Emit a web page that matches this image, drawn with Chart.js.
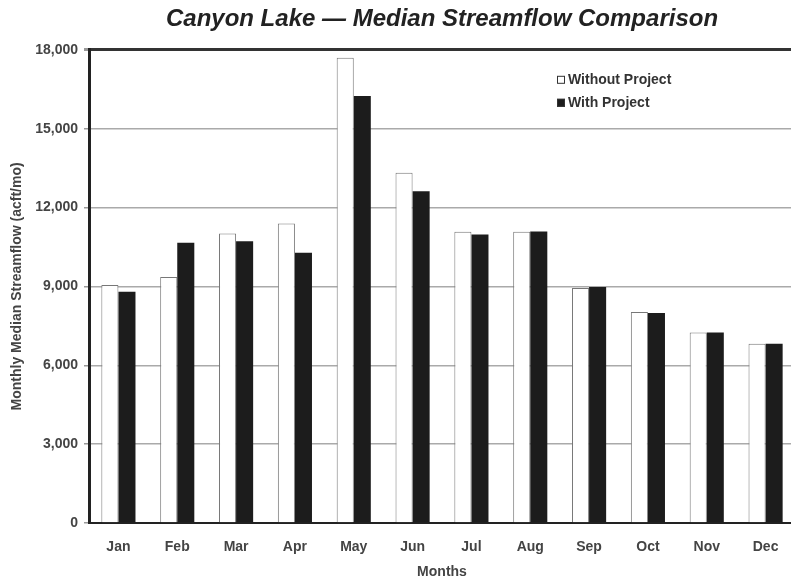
<!DOCTYPE html>
<html>
<head>
<meta charset="utf-8">
<script src="https://cdn.jsdelivr.net/npm/chart.js@4.4.0/dist/chart.umd.min.js"></script>
<style>
  html, body { margin: 0; padding: 0; background: #fff; overflow: hidden; }
  #wrap { width: 800px; height: 581px; }
</style>
</head>
<body>
<div id="wrap"><canvas id="flowChart"></canvas></div>
<script>
const months = ["Jan", "Feb", "Mar", "Apr", "May", "Jun", "Jul", "Aug", "Sep", "Oct", "Nov", "Dec"];
const withoutProject = [9050, 9360, 11010, 11390, 17700, 13320, 11080, 11080, 8940, 8030, 7250, 6820];
const withProject = [8800, 10660, 10720, 10280, 16240, 12620, 10970, 11090, 8980, 7990, 7250, 6820];
const yTicks = [0, 3000, 6000, 9000, 12000, 15000, 18000];

const FONT = "'Liberation Sans', Arial, Helvetica, sans-serif";

// legend drawn inside the plot, top right
const insideLegend = {
  id: "insideLegend",
  afterDraw(chart) {
    const ctx = chart.ctx;
    const area = chart.chartArea;
    const x = area.left + 468;
    let y = area.top + 30;
    ctx.save();
    ctx.font = "bold 14px " + FONT;
    ctx.textBaseline = "middle";
    chart.data.datasets.forEach((ds) => {
      ctx.fillStyle = ds.backgroundColor;
      ctx.fillRect(x, y - 4, 8, 8);
      ctx.strokeStyle = "#333";
      ctx.lineWidth = 1;
      ctx.strokeRect(x + 0.5, y - 3.5, 7, 7);
      ctx.fillStyle = "#333";
      ctx.fillText(ds.label, x + 11, y);
      y += 23;
    });
    ctx.restore();
  },
};

const ctx = document.getElementById("flowChart").getContext("2d");
new Chart(ctx, {
  type: "bar",
  data: {
    labels: months,
    datasets: [
      {
        label: "Without Project",
        data: withoutProject,
        backgroundColor: "#ffffff",
        borderColor: "#777777",
        borderWidth: 1,
      },
      {
        label: "With Project",
        data: withProject,
        backgroundColor: "#1c1c1c",
        borderWidth: 0,
      },
    ],
  },
  options: {
    responsive: true,
    maintainAspectRatio: false,
    animation: false,
    devicePixelRatio: 1,
    layout: { padding: { left: 0, right: 5, top: 0, bottom: 0 } },
    datasets: {
      bar: { categoryPercentage: 0.58, barPercentage: 1.0 },
    },
    plugins: {
      legend: { display: false },
      tooltip: { enabled: false },
      title: {
        display: true,
        fullSize: false,
        text: "Canyon Lake \u2014 Median Streamflow Comparison",
        font: { family: FONT, size: 24, weight: "bold", style: "italic" },
        color: "#222",
        padding: { top: 5, bottom: 16 },
      },
    },
    scales: {
      x: {
        grid: { display: false },
        border: { display: true, color: "#222", width: 2 },
        ticks: {
          font: { family: FONT, size: 14, weight: "bold" },
          color: "#444",
          padding: 8,
        },
        title: {
          display: true,
          text: "Months",
          font: { family: FONT, size: 14, weight: "bold" },
          color: "#444",
          padding: { top: 4, bottom: 0 },
        },
        afterFit(scale) {
          scale.height = 58;
        },
      },
      y: {
        min: 0,
        max: 18000,
        afterBuildTicks(scale) {
          scale.ticks = yTicks.map((v) => ({ value: v }));
        },
        grid: {
          color: (c) => (c.tick && c.tick.value === 18000 ? "#333" : "#aaaaaa"),
          lineWidth: (c) => (c.tick && c.tick.value === 18000 ? 3 : 1.5),
          tickLength: 5,
          tickColor: "#999",
        },
        border: { display: true, color: "#222", width: 3 },
        ticks: {
          font: { family: FONT, size: 14, weight: "bold" },
          color: "#444",
          padding: 6,
          callback: (v) => Number(v).toLocaleString("en-US"),
        },
        title: {
          display: true,
          text: "Monthly Median Streamflow (acft/mo)",
          font: { family: FONT, size: 14, weight: "bold" },
          color: "#444",
          padding: { top: 9, bottom: 0 },
        },
        afterFit(scale) {
          scale.width = 89;
        },
      },
    },
  },
  plugins: [insideLegend],
});
</script>
</body>
</html>
